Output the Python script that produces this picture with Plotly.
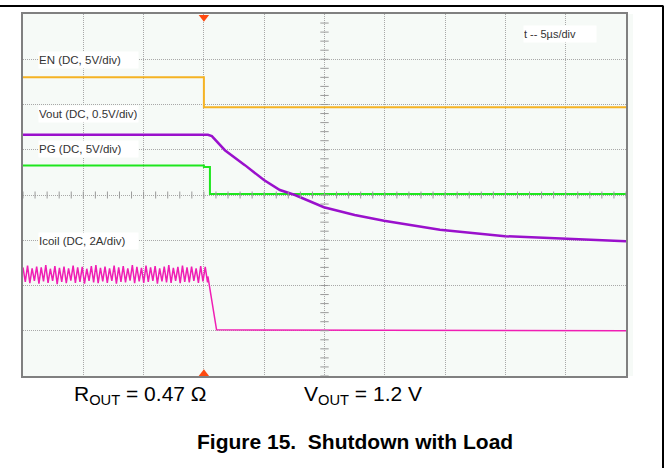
import numpy as np
import plotly.graph_objects as go

# time axis in microseconds (5 us/div, trigger at t=0), vertical in screen divisions
t_range = [-15, 35]
div_range = [-4, 4]

en_t = [-15, 0, 0, 35]
en = [2.60, 2.60, 1.94, 1.94]

pg_t = [-15, 0.0, 0.0, 0.5, 0.5, 35]
pg = [0.65, 0.65, 0.62, 0.62, 0.02, 0.02]

vout_t = [-15, 0.33, 0.66, 1.74, 3.40, 4.98, 6.30, 7.55, 9.95, 12.5, 14.93, 19.57, 24.96, 30.02, 35]
vout = [1.33, 1.33, 1.30, 0.99, 0.66, 0.33, 0.11, 0.00, -0.27, -0.44, -0.57, -0.77, -0.91, -0.97, -1.02]

# inductor current ripple before shutdown (peak, valley, peak, valley ...)
icoil_ripple = [
    -1.60, -1.92, -1.56, -1.95, -1.62, -1.90, -1.58, -1.96, -1.60, -1.91,
    -1.55, -1.94, -1.63, -1.90, -1.57, -1.97, -1.61, -1.92, -1.58, -1.95,
    -1.62, -1.89, -1.56, -1.94, -1.60, -1.92, -1.59, -1.96, -1.63, -1.90,
    -1.57, -1.93, -1.55, -1.95, -1.61, -1.91, -1.58, -1.94, -1.62, -1.90,
    -1.56, -1.96, -1.60, -1.92, -1.57, -1.93, -1.62, -1.89, -1.55, -1.95,
    -1.59, -1.91, -1.61, -1.94, -1.56, -1.92, -1.60, -1.90, -1.57, -1.96,
    -1.62, -1.91, -1.58, -1.93, -1.55, -1.94, -1.61, -1.90, -1.59, -1.95,
    -1.56, -1.92, -1.60, -1.93, -1.58, -1.90, -1.62, -1.94, -1.57, -1.91,
    -1.59, -1.93,
]
icoil_ripple_end = 0.3
icoil_tail_t = [0.33, 0.75, 1.05, 35]
icoil_tail = [-1.80, -2.48, -2.98, -3.00]

# channel reference markers at right edge
ref_levels = [2.30, 2.01, 0.07, -1.02, -3.00]
ref_colors = ['#f5b324', '#f5b324', '#1ee61e', '#9a10cc', '#f01eb4']

labels = ['EN (DC, 5V/div)', 'Vout (DC, 0.5V/div)', 'PG (DC, 5V/div)', 'Icoil (DC, 2A/div)']
label_y = [2.98, 1.78, 1.01, -1.02]

W, H = 668, 468
L, R, T, B = 23, 626, 14, 376
FONT = 'Arial, Liberation Sans, sans-serif'
SCREEN = '#f6faf7'


def px(x):
    return (x - L) / (R - L)


def py(y):
    return (B - y) / (B - T)


fig = go.Figure()

icoil_t = np.linspace(-15, icoil_ripple_end, len(icoil_ripple))

fig.add_trace(go.Scatter(x=en_t, y=en, mode='lines', line=dict(color='#f5b324', width=2)))
fig.add_trace(go.Scatter(x=pg_t, y=pg, mode='lines', line=dict(color='#1ee61e', width=2)))
fig.add_trace(go.Scatter(x=list(icoil_t) + icoil_tail_t, y=icoil_ripple + icoil_tail,
                         mode='lines', line=dict(color='#f01eb4', width=1.5)))
fig.add_trace(go.Scatter(x=vout_t, y=vout, mode='lines', line=dict(color='#9a10cc', width=2.5)))

# minor ticks on centre lines
fig.add_trace(go.Scatter(x=np.arange(-15, 35.01, 1), y=[0] * 51, mode='markers',
                         marker=dict(symbol='line-ns', size=5, line=dict(color='#9a9a9a', width=1))))
fig.add_trace(go.Scatter(x=[10] * 41, y=np.arange(-4, 4.01, 0.2), mode='markers',
                         marker=dict(symbol='line-ew', size=6, line=dict(color='#9a9a9a', width=1))))

# trigger markers
fig.add_trace(go.Scatter(x=[0, 0], y=[3.93, -3.95], mode='markers', cliponaxis=False,
                         marker=dict(symbol=['triangle-down', 'triangle-up'], size=9, color='#ff4a10')))

fig.add_trace(go.Scatter(x=[35.45] * len(ref_levels), y=ref_levels, mode='markers', cliponaxis=False,
                         marker=dict(symbol='triangle-left', size=5, color=ref_colors)))

for txt, yv in zip(labels, label_y):
    fig.add_annotation(x=-13.77, y=yv, text=txt, showarrow=False, xanchor='left', yanchor='middle',
                       align='left', width=99, height=16, bgcolor='white', borderpad=0,
                       font=dict(family=FONT, size=11.5, color='#333333'))
fig.add_annotation(x=26.45, y=3.56, text='t -- 5µs/div', showarrow=False, xanchor='left', yanchor='middle',
                   align='left', width=72, height=16, bgcolor='white', borderpad=0,
                   font=dict(family=FONT, size=11, color='#333333'))

fig.add_annotation(x=px(72), y=py(395), xref='paper', yref='paper', text='R<sub>OUT</sub> = 0.47 Ω',
                   showarrow=False, xanchor='left', yanchor='middle',
                   font=dict(family=FONT, size=21, color='black'))
fig.add_annotation(x=px(302), y=py(395), xref='paper', yref='paper', text='V<sub>OUT</sub> = 1.2 V',
                   showarrow=False, xanchor='left', yanchor='middle',
                   font=dict(family=FONT, size=21, color='black'))
fig.add_annotation(x=px(355), y=py(441), xref='paper', yref='paper', text='<b>Figure 15.  Shutdown with Load</b>',
                   showarrow=False, xanchor='center', yanchor='middle',
                   font=dict(family=FONT, size=21, color='black'))

# scope screen margin right of frame, page border
fig.add_shape(type='rect', xref='paper', yref='paper', x0=1, x1=px(633), y0=0, y1=1,
              fillcolor=SCREEN, line=dict(width=0), layer='below')
fig.add_shape(type='line', xref='paper', yref='paper', x0=px(0), x1=px(663.5), y0=py(6), y1=py(6),
              line=dict(color='black', width=2))
fig.add_shape(type='line', xref='paper', yref='paper', x0=px(663), x1=px(663), y0=py(6), y1=py(470),
              line=dict(color='black', width=2))

grid = dict(showgrid=True, gridcolor='#a8a8a8', gridwidth=1, griddash='1px,1px', zeroline=False,
            showticklabels=False, ticks='', showline=True, mirror=True, linecolor='#808080', linewidth=2)
fig.update_xaxes(range=t_range, dtick=5, tick0=0, **grid)
fig.update_yaxes(range=div_range, dtick=1, tick0=0, **grid)

fig.update_layout(
    width=W, height=H,
    margin=dict(l=L, r=W - R, t=T, b=H - B),
    plot_bgcolor=SCREEN, paper_bgcolor='white',
    showlegend=False,
)

# drop the browser's default body margin so the figure sits at the page corner
fig.write_html("out.html", config={'displayModeBar': False},
               post_script="document.body.style.margin='0';")
